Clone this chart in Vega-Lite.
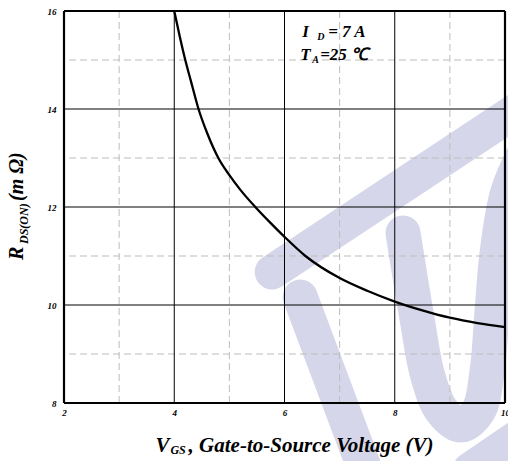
{
  "$schema": "https://vega.github.io/schema/vega-lite/v6.json",
  "autosize": {"type": "none"},
  "width": 441,
  "height": 392,
  "padding": {"left": 64, "top": 11, "right": 3, "bottom": 58},
  "background": "white",
  "config": {
    "view": {"stroke": null},
    "axis": {
      "labelFont": "Liberation Serif",
      "labelFontStyle": "italic",
      "labelFontWeight": "bold",
      "labelFontSize": 9,
      "labelColor": "black",
      "ticks": false,
      "domain": false,
      "grid": false,
      "labelOverlap": false,
      "labelFlush": false,
      "format": "d"
    },
    "axisX": {"labelPadding": 5},
    "axisY": {"labelPadding": 8},
    "text": {"font": "Liberation Serif", "fontStyle": "italic", "fontWeight": "bold", "color": "black"}
  },
  "datasets": {
    "curve": [
      {"x": 4.0, "y": 16.0},
      {"x": 4.1, "y": 15.48},
      {"x": 4.2, "y": 15.0},
      {"x": 4.3, "y": 14.58},
      {"x": 4.44, "y": 14.0},
      {"x": 4.6, "y": 13.5},
      {"x": 4.8, "y": 13.0},
      {"x": 5.0, "y": 12.65},
      {"x": 5.2, "y": 12.35},
      {"x": 5.47, "y": 12.0},
      {"x": 5.75, "y": 11.67},
      {"x": 6.0, "y": 11.39},
      {"x": 6.38, "y": 11.0},
      {"x": 7.0, "y": 10.55},
      {"x": 7.5, "y": 10.29},
      {"x": 8.0, "y": 10.07},
      {"x": 8.5, "y": 9.89},
      {"x": 9.0, "y": 9.74},
      {"x": 9.5, "y": 9.63},
      {"x": 10.0, "y": 9.55}
    ],
    "watermark": [
      {"seg": "A", "i": 0, "x": 5.777, "y": 10.673},
      {"seg": "A", "i": 1, "x": 10.632, "y": 14.286},
      {"seg": "C", "i": 0, "x": 6.284, "y": 10.163},
      {"seg": "C", "i": 1, "x": 7.462, "y": 6.633},
      {"seg": "D", "i": 0, "x": 9.364, "y": 6.633},
      {"seg": "D", "i": 1, "x": 10.632, "y": 7.612},
      {"seg": "U", "i": 0, "x": 8.150, "y": 11.469},
      {"seg": "U", "i": 1, "x": 8.40, "y": 9.75},
      {"seg": "U", "i": 2, "x": 8.60, "y": 8.55},
      {"seg": "U", "i": 3, "x": 8.85, "y": 7.85},
      {"seg": "U", "i": 4, "x": 9.20, "y": 7.55},
      {"seg": "U", "i": 5, "x": 9.52, "y": 7.85},
      {"seg": "U", "i": 6, "x": 9.68, "y": 8.70},
      {"seg": "U", "i": 7, "x": 9.76, "y": 9.80},
      {"seg": "U", "i": 8, "x": 9.86, "y": 11.10},
      {"seg": "U", "i": 9, "x": 10.05, "y": 12.30},
      {"seg": "U", "i": 10, "x": 10.40, "y": 13.20}
    ],
    "minorX": [{"x": 3}, {"x": 5}, {"x": 7}, {"x": 9}],
    "minorY": [{"y": 9}, {"y": 11}, {"y": 13}, {"y": 15}],
    "majorX": [{"x": 4}, {"x": 6}, {"x": 8}],
    "majorY": [{"y": 10}, {"y": 12}, {"y": 14}],
    "borderX": [{"x": 2}, {"x": 10}],
    "borderY": [{"y": 8}, {"y": 16}],
    "bigText": [
      {"t": "V", "x": 3.658, "y": 7.006},
      {"t": ", Gate-to-Source Voltage (V)", "x": 4.26, "y": 7.006}
    ],
    "smallText": [
      {"t": "GS", "x": 3.93, "y": 6.953}
    ],
    "yBig": [
      {"t": "R", "x": 1.248, "y": 10.918},
      {"t": "(m Ω)", "x": 1.248, "y": 12.122}
    ],
    "ySmall": [
      {"t": "DS(ON)", "x": 1.339, "y": 11.245}
    ],
    "noteBig": [
      {"t": "I", "x": 6.321, "y": 15.476},
      {"t": "= 7 A", "x": 6.792, "y": 15.476},
      {"t": "T", "x": 6.284, "y": 15.0},
      {"t": "=25 ℃", "x": 6.647, "y": 15.0}
    ],
    "noteSmall": [
      {"t": "D", "x": 6.592, "y": 15.408},
      {"t": "A", "x": 6.502, "y": 14.945}
    ]
  },
  "layer": [
    {
      "data": {"name": "watermark"},
      "mark": {"type": "line", "color": "#d6d6ea", "strokeWidth": 35, "strokeCap": "round", "strokeJoin": "round", "interpolate": "catmull-rom"},
      "encoding": {
        "x": {"field": "x", "type": "quantitative", "title": null, "scale": {"domain": [2, 10], "nice": false, "zero": false}, "axis": {"values": [2, 4, 6, 8, 10]}},
        "y": {"field": "y", "type": "quantitative", "title": null, "scale": {"domain": [8, 16], "nice": false, "zero": false}, "axis": {"values": [8, 10, 12, 14, 16]}},
        "detail": {"field": "seg"},
        "order": {"field": "i"}
      }
    },
    {
      "data": {"name": "minorX"},
      "mark": {"type": "rule", "color": "#bdbdbd", "strokeWidth": 1, "strokeDash": [7, 4]},
      "encoding": {
        "x": {"field": "x", "type": "quantitative", "title": null, "scale": {"domain": [2, 10], "nice": false, "zero": false}}
      }
    },
    {
      "data": {"name": "minorY"},
      "mark": {"type": "rule", "color": "#bdbdbd", "strokeWidth": 1, "strokeDash": [7, 4]},
      "encoding": {
        "y": {"field": "y", "type": "quantitative", "title": null, "scale": {"domain": [8, 16], "nice": false, "zero": false}}
      }
    },
    {
      "data": {"name": "majorX"},
      "mark": {"type": "rule", "color": "black", "strokeWidth": 1},
      "encoding": {
        "x": {"field": "x", "type": "quantitative", "title": null, "scale": {"domain": [2, 10], "nice": false, "zero": false}}
      }
    },
    {
      "data": {"name": "majorY"},
      "mark": {"type": "rule", "color": "black", "strokeWidth": 1},
      "encoding": {
        "y": {"field": "y", "type": "quantitative", "title": null, "scale": {"domain": [8, 16], "nice": false, "zero": false}}
      }
    },
    {
      "data": {"name": "curve"},
      "mark": {"type": "line", "color": "black", "strokeWidth": 2.3, "interpolate": "monotone"},
      "encoding": {
        "x": {"field": "x", "type": "quantitative", "title": null, "scale": {"domain": [2, 10], "nice": false, "zero": false}},
        "y": {"field": "y", "type": "quantitative", "title": null, "scale": {"domain": [8, 16], "nice": false, "zero": false}}
      }
    },
    {
      "data": {"name": "borderX"},
      "mark": {"type": "rule", "color": "black", "strokeWidth": 2.2},
      "encoding": {
        "x": {"field": "x", "type": "quantitative", "title": null, "scale": {"domain": [2, 10], "nice": false, "zero": false}}
      }
    },
    {
      "data": {"name": "borderY"},
      "mark": {"type": "rule", "color": "black", "strokeWidth": 2.2},
      "encoding": {
        "y": {"field": "y", "type": "quantitative", "title": null, "scale": {"domain": [8, 16], "nice": false, "zero": false}}
      }
    },
    {
      "data": {"name": "bigText"},
      "mark": {"type": "text", "fontSize": 21, "align": "left", "baseline": "alphabetic"},
      "encoding": {
        "x": {"field": "x", "type": "quantitative", "title": null, "scale": {"domain": [2, 10], "nice": false, "zero": false}},
        "y": {"field": "y", "type": "quantitative", "title": null, "scale": {"domain": [8, 16], "nice": false, "zero": false}},
        "text": {"field": "t"}
      }
    },
    {
      "data": {"name": "smallText"},
      "mark": {"type": "text", "fontSize": 12, "align": "left", "baseline": "alphabetic"},
      "encoding": {
        "x": {"field": "x", "type": "quantitative", "title": null, "scale": {"domain": [2, 10], "nice": false, "zero": false}},
        "y": {"field": "y", "type": "quantitative", "title": null, "scale": {"domain": [8, 16], "nice": false, "zero": false}},
        "text": {"field": "t"}
      }
    },
    {
      "data": {"name": "yBig"},
      "mark": {"type": "text", "fontSize": 20, "align": "left", "baseline": "alphabetic", "angle": 270},
      "encoding": {
        "x": {"field": "x", "type": "quantitative", "title": null, "scale": {"domain": [2, 10], "nice": false, "zero": false}},
        "y": {"field": "y", "type": "quantitative", "title": null, "scale": {"domain": [8, 16], "nice": false, "zero": false}},
        "text": {"field": "t"}
      }
    },
    {
      "data": {"name": "ySmall"},
      "mark": {"type": "text", "fontSize": 12, "align": "left", "baseline": "alphabetic", "angle": 270},
      "encoding": {
        "x": {"field": "x", "type": "quantitative", "title": null, "scale": {"domain": [2, 10], "nice": false, "zero": false}},
        "y": {"field": "y", "type": "quantitative", "title": null, "scale": {"domain": [8, 16], "nice": false, "zero": false}},
        "text": {"field": "t"}
      }
    },
    {
      "data": {"name": "noteBig"},
      "mark": {"type": "text", "fontSize": 17, "align": "left", "baseline": "alphabetic"},
      "encoding": {
        "x": {"field": "x", "type": "quantitative", "title": null, "scale": {"domain": [2, 10], "nice": false, "zero": false}},
        "y": {"field": "y", "type": "quantitative", "title": null, "scale": {"domain": [8, 16], "nice": false, "zero": false}},
        "text": {"field": "t"}
      }
    },
    {
      "data": {"name": "noteSmall"},
      "mark": {"type": "text", "fontSize": 10, "align": "left", "baseline": "alphabetic"},
      "encoding": {
        "x": {"field": "x", "type": "quantitative", "title": null, "scale": {"domain": [2, 10], "nice": false, "zero": false}},
        "y": {"field": "y", "type": "quantitative", "title": null, "scale": {"domain": [8, 16], "nice": false, "zero": false}},
        "text": {"field": "t"}
      }
    }
  ]
}
